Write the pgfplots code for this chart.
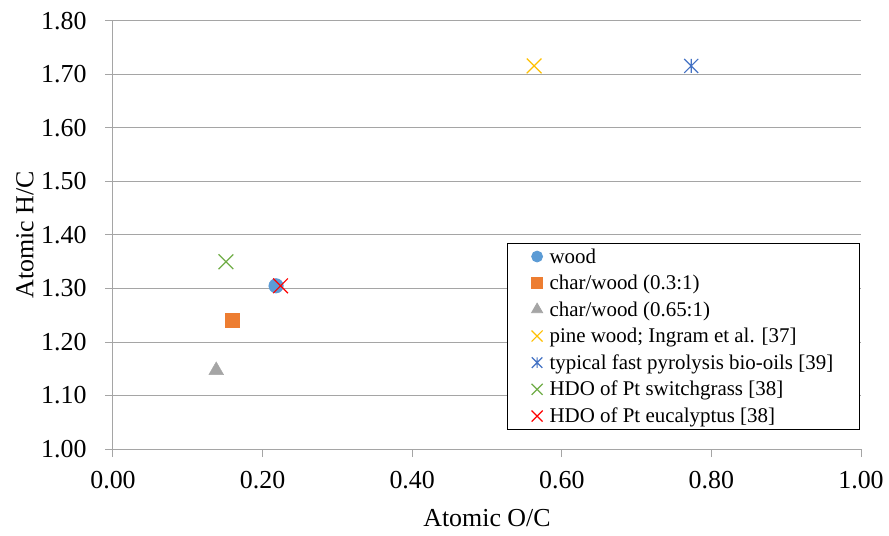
\documentclass[border=0pt]{standalone}
\usepackage{pgfplots}
\pgfplotsset{compat=1.18}
\usepackage{fontspec}
\setmainfont{Liberation Serif}

\definecolor{gridgray}{RGB}{165,165,165}
\definecolor{xlblue}{RGB}{91,155,213}
\definecolor{xlorange}{RGB}{237,125,49}
\definecolor{xlgray}{RGB}{165,165,165}
\definecolor{xlgold}{RGB}{255,192,0}
\definecolor{xldblue}{RGB}{68,114,196}
\definecolor{xlgreen}{RGB}{112,173,71}

% Excel-like star: an x with a vertical stroke
\pgfdeclareplotmark{xstar}{%
  \pgfpathmoveto{\pgfqpoint{-\pgfplotmarksize}{-\pgfplotmarksize}}%
  \pgfpathlineto{\pgfqpoint{\pgfplotmarksize}{\pgfplotmarksize}}%
  \pgfpathmoveto{\pgfqpoint{-\pgfplotmarksize}{\pgfplotmarksize}}%
  \pgfpathlineto{\pgfqpoint{\pgfplotmarksize}{-\pgfplotmarksize}}%
  \pgfpathmoveto{\pgfqpoint{0pt}{-\pgfplotmarksize}}%
  \pgfpathlineto{\pgfqpoint{0pt}{\pgfplotmarksize}}%
  \pgfusepathqstroke}

\begin{document}
\begin{tikzpicture}
\begin{axis}[
  scale only axis,
  width=748bp, height=428bp,
  xmin=0, xmax=1, ymin=1, ymax=1.8,
  xtick={0,0.2,...,1.0}, ytick={1,1.1,...,1.8},
  axis lines*=left,
  axis line style={gridgray, line width=1bp},
  ymajorgrids,
  major grid style={gridgray, line width=1bp},
  tick style={gridgray, line width=1bp},
  tick align=outside,
  major tick length=8bp,
  font=\fontsize{26}{30}\selectfont,
  ticklabel style={font=\fontsize{26}{30}\selectfont},
  /pgf/number format/.cd, fixed, fixed zerofill, precision=2, assume math mode=true,
  /pgfplots/.cd,
  xticklabel style={yshift=-11bp},
  yticklabel style={xshift=-15bp},
  xlabel={Atomic O/C},
  ylabel={Atomic H/C},
  xlabel style={at={(axis description cs:0.5,-0.161)}, anchor=center},
  ylabel style={at={(axis description cs:-0.1176,0.5)}, anchor=center},
  legend cell align=left,
  legend style={
    at={(0.527,0.481)}, anchor=north west,
    draw=black, line width=0.8bp,
    font=\fontsize{21}{25}\selectfont,
    inner xsep=24bp, inner ysep=3bp,
    row sep=6.5bp,
    /tikz/every odd column/.append style={column sep=5bp},
  },
  legend image code/.code={\draw[#1, mark options={scale=0.75}] plot coordinates {(0.2cm,0cm)};},
]
\addplot[only marks, mark=*, mark size=7.3bp, draw=xlblue, fill=xlblue]
  coordinates {(0.218,1.305)};
\addlegendentry{wood}
\addplot[only marks, mark=square*, mark size=7.2bp, draw=xlorange, fill=xlorange]
  coordinates {(0.159,1.241)};
\addlegendentry{char/wood (0.3:1)}
\addplot[only marks, mark=triangle*, mark size=8.5bp, draw=xlgray, fill=xlgray]
  coordinates {(0.138,1.147)};
\addlegendentry{char/wood (0.65:1)}
\addplot[only marks, mark=x, mark size=10.4bp, draw=xlgold, line width=1.2bp]
  coordinates {(0.563,1.716)};
\addlegendentry{pine wood; Ingram et al. [37]}
\addplot[only marks, mark=xstar, mark size=7bp, draw=xldblue, line width=1.2bp]
  coordinates {(0.773,1.716)};
\addlegendentry{typical fast pyrolysis bio-oils [39]}
\addplot[only marks, mark=x, mark size=10.4bp, draw=xlgreen, line width=1.2bp]
  coordinates {(0.151,1.350)};
\addlegendentry{HDO of Pt switchgrass [38]}
\addplot[only marks, mark=x, mark size=10.4bp, draw=red, line width=1.2bp]
  coordinates {(0.224,1.305)};
\addlegendentry{HDO of Pt eucalyptus [38]}
\end{axis}
\pgfresetboundingbox
\useasboundingbox ([shift={(-113bp,-87bp)}]current axis.south west)
  rectangle ([shift={(28bp,21bp)}]current axis.north east);
\end{tikzpicture}
\end{document}
